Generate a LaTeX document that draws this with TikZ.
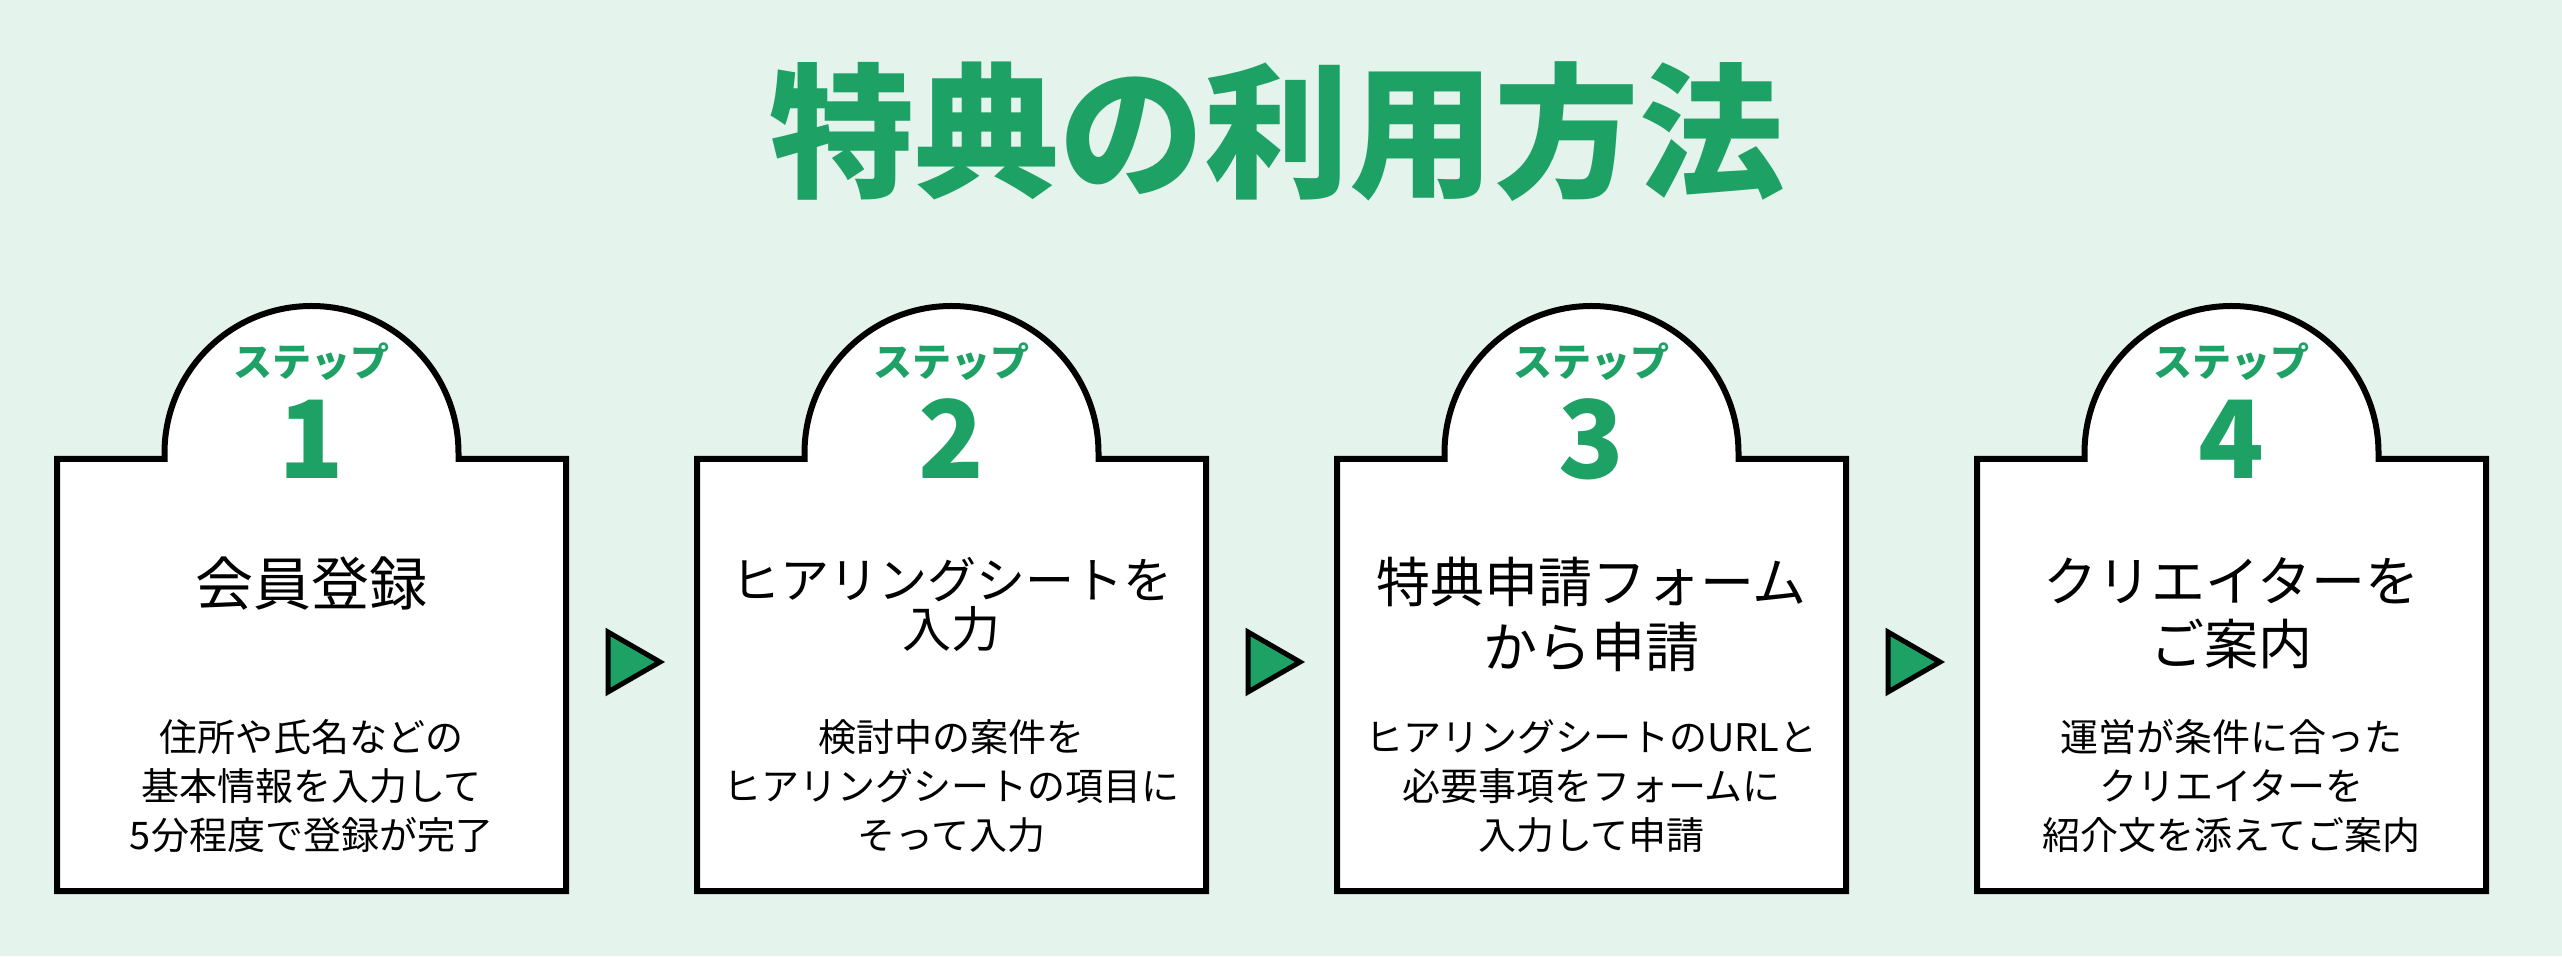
\documentclass[tikz,border=0pt]{standalone}
\usepackage{fontspec}
\usepackage{tikz}
\usetikzlibrary{positioning, calc}
\setmainfont{Noto Sans CJK JP}
\definecolor{stepgreen}{RGB}{30, 161, 100}
\definecolor{bgmint}{RGB}{228, 244, 236}

\begin{document}
\begin{tikzpicture}[x=1pt, y=1pt,
    outline/.style={draw=black, line width=6pt, fill=white, line join=miter},
    steplabel/.style={text=stepgreen, inner sep=0pt, font=\fontsize{39}{39}\selectfont\bfseries},
    stepnum/.style={text=stepgreen, inner sep=0pt, anchor=base, font=\fontsize{108}{108}\selectfont\bfseries},
    heading/.style={anchor=north, align=center, inner sep=0pt},
    bodytext/.style={anchor=north, align=center, inner sep=0pt, font=\fontsize{38}{49}\selectfont}]
  \fill[bgmint] (0,0) rectangle (2562,956);

  % Title
  \node[text=stepgreen, font=\fontsize{145}{145}\selectfont\bfseries] (title) at (1277,824) {特典の利用方法};

  % Step boxes with the arch on top
  \foreach \i in {1,...,4} {
    \pgfmathsetmacro{\L}{57+640*(\i-1)}
    \draw[outline] (\L,65) -- (\L,497) -- (\L+107.5,497) -- (\L+107.5,503)
      arc[start angle=180, end angle=0, radius=147]
      -- (\L+401.5,497) -- (\L+509,497) -- (\L+509,65) -- cycle;
    \coordinate (h\i) at (\L+254.5,399);
    \coordinate (b\i) at (\L+254.5,237);
    \node[steplabel] (lab\i) at (\L+254.5,594) {ステップ};
    \node[stepnum] (num\i) at (\L+254.5,477) {\i};
  }

  % Headings
  \node[heading, font=\fontsize{58}{64}\selectfont] (head1) at (h1) {会員登録};
  \node[heading, font=\fontsize{49}{49}\selectfont] (head2) at (h2) {ヒアリングシートを\\入力};
  \node[heading, font=\fontsize{54}{65}\selectfont] (head3) at (h3) {特典申請フォーム\\から申請};
  \node[heading, font=\fontsize{54}{63}\selectfont] (head4) at (h4) {クリエイターを\\ご案内};

  % Descriptions
  \node[bodytext] (desc1) at (b1) {住所や氏名などの\\基本情報を入力して\\5分程度で登録が完了};
  \node[bodytext] (desc2) at (b2) {検討中の案件を\\ヒアリングシートの項目に\\そって入力};
  \node[bodytext] (desc3) at (b3) {ヒアリングシートのURLと\\必要事項をフォームに\\入力して申請};
  \node[bodytext] (desc4) at (b4) {運営が条件に合った\\クリエイターを\\紹介文を添えてご案内};

  % Triangles between the boxes
  \foreach \cx in {635,1275,1915}
    \draw[fill=stepgreen, draw=black, line width=5pt, line join=miter]
      (\cx-27,324) -- (\cx+25,294) -- (\cx-27,264) -- cycle;
\end{tikzpicture}
\end{document}
